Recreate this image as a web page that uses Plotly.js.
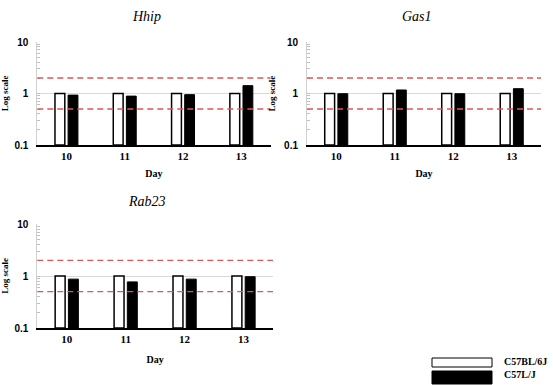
<!DOCTYPE html>
<html><head><meta charset="utf-8">
<script src="https://cdn.plot.ly/plotly-3.0.1.min.js"></script>
<style>html,body{margin:0;padding:0;background:#fff}#c{width:553px;height:385px}</style>
</head><body><div id="c"></div>
<script>
const days = ['10','11','12','13'];
const genes = ['Hhip','Gas1','Rab23'];
const seriesNames = ['C57BL/6J','C57L/J'];
const hhipB6 = [1,1,1,1];
const hhipL = [0.93,0.89,0.95,1.42];
const gas1B6 = [1,1,1,1];
const gas1L = [0.99,1.17,0.99,1.24];
const rab23B6 = [1,1,1,1];
const rab23L = [0.87,0.77,0.87,0.97];
const thresholds = [2,0.5];

const W=553,H=385;
const px=(x)=>x/W, py=(y)=>1-y/H;
const serif="'Liberation Serif', 'Times New Roman', serif";
const sans="'Liberation Sans', Arial, sans-serif";
const data=[];
const sets=[[hhipB6,hhipL],[gas1B6,gas1L],[rab23B6,rab23L]];
sets.forEach((s,i)=>{
  const xa = i===0?'x':'x'+(i+1), ya = i===0?'y':'y'+(i+1);
  data.push({type:'bar',x:days,y:s[0].map(v=>v-0.1),base:0.1,name:seriesNames[0],xaxis:xa,yaxis:ya,
    marker:{color:'#ffffff',line:{color:'#000',width:1.5}},showlegend:false});
  data.push({type:'bar',x:days,y:s[1].map(v=>v-0.1),base:0.1,name:seriesNames[1],xaxis:xa,yaxis:ya,
    marker:{color:'#000000',line:{color:'#000',width:1}},showlegend:false});
});

const doms=[
  {x:[px(37.3),px(270.5)],y:[py(145),py(42)]},
  {x:[px(307),px(541)],y:[py(145),py(42)]},
  {x:[px(37.3),px(273)],y:[py(328),py(224)]}
];
const layout={width:W,height:H,margin:{l:0,r:0,t:0,b:0},paper_bgcolor:'#fff',plot_bgcolor:'#fff',
  barmode:'group',bargap:0.55,bargroupgap:0.25,showlegend:false,
  font:{family:serif,color:'#000'},shapes:[],annotations:[]};
doms.forEach((d,i)=>{
  const k=i===0?'':(i+1);
  layout['xaxis'+k]={domain:d.x,anchor:'y'+k,type:'category',showline:true,linecolor:'#000',linewidth:2,
    ticks:'',tickfont:{size:11,family:serif,weight:'bold'},showgrid:false,zeroline:false,
    title:{text:'<b>Day</b>',font:{size:10,family:serif},standoff:i===2?12:9}};
  layout['yaxis'+k]={domain:d.y,anchor:'x'+k,type:'log',range:[-1,1],dtick:1,
    showline:true,linecolor:'#d0d0d0',linewidth:1,
    showgrid:true,gridcolor:'#d9d9d9',gridwidth:1,zeroline:false,
    ticks:'inside',ticklen:3,tickwidth:1,tickcolor:'#c0c0c0',
    tickfont:{size:10,family:sans,weight:'bold'},ticklabelstandoff:6,
    minor:{ticks:'inside',ticklen:3,tickwidth:1,tickcolor:'#c0c0c0',dtick:'D1',showgrid:false},
    title:{text:'<b>Log scale</b>',font:{size:9,family:serif},standoff:6}};
  thresholds.forEach(t=>{
    layout.shapes.push({type:'line',xref:'x'+k+' domain',yref:'y'+k,x0:0,x1:1,y0:t,y1:t,
      line:{color:'#e05555',width:1.3,dash:'6px,4px'}});
  });
});
const titlePos=[[147,16],[417,16],[147,202]];
genes.forEach((g,i)=>{
  layout.annotations.push({xref:'paper',yref:'paper',x:px(titlePos[i][0]),y:py(titlePos[i][1]),
    text:'<i>'+g+'</i>',showarrow:false,font:{size:14,family:serif},xanchor:'center',yanchor:'middle'});
});
const legY=[[358,367],[371,384]];
const legC=['#ffffff','#000000'];
const legTY=[361,374];
seriesNames.forEach((n,i)=>{
  layout.shapes.push({type:'rect',xref:'paper',yref:'paper',x0:px(432),x1:px(492),y0:py(legY[i][1]),y1:py(legY[i][0]),
    fillcolor:legC[i],line:{color:'#000',width:1}});
  layout.annotations.push({xref:'paper',yref:'paper',x:px(502),y:py(legTY[i]),text:'<b>'+n+'</b>',showarrow:false,
    xanchor:'left',yanchor:'middle',font:{size:10,family:serif}});
});
Plotly.newPlot('c',data,layout,{staticPlot:true,displayModeBar:false});
</script></body></html>
